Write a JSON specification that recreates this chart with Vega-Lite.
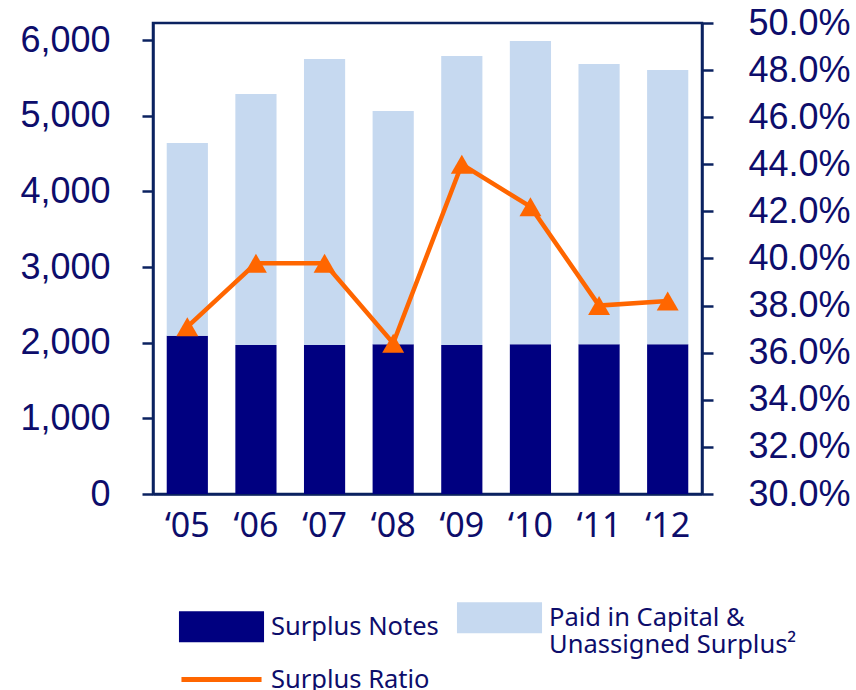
{
  "$schema": "https://vega.github.io/schema/vega-lite/v6.json",
  "width": 549,
  "height": 471,
  "autosize": {"type": "none"},
  "padding": {"left": 153, "top": 23, "right": 154, "bottom": 196},
  "background": "white",
  "config": {
    "view": {"stroke": "#0B2260", "strokeWidth": 2.5},
    "axis": {"grid": false, "domainColor": "#0B2260", "domainWidth": 2.5, "tickColor": "#0B2260", "tickWidth": 2.5, "labelColor": "#0D0D6B", "title": null}
  },
  "datasets": {
    "bars": [
      {"year": "‘05", "series": "Surplus Notes", "value": 2090},
      {"year": "‘06", "series": "Surplus Notes", "value": 1970},
      {"year": "‘07", "series": "Surplus Notes", "value": 1970},
      {"year": "‘08", "series": "Surplus Notes", "value": 1980},
      {"year": "‘09", "series": "Surplus Notes", "value": 1970},
      {"year": "‘10", "series": "Surplus Notes", "value": 1980},
      {"year": "‘11", "series": "Surplus Notes", "value": 1980},
      {"year": "‘12", "series": "Surplus Notes", "value": 1980},
      {"year": "‘05", "series": "Paid in Capital & Unassigned Surplus²", "value": 2549},
      {"year": "‘06", "series": "Paid in Capital & Unassigned Surplus²", "value": 3316},
      {"year": "‘07", "series": "Paid in Capital & Unassigned Surplus²", "value": 3779},
      {"year": "‘08", "series": "Paid in Capital & Unassigned Surplus²", "value": 3081},
      {"year": "‘09", "series": "Paid in Capital & Unassigned Surplus²", "value": 3818},
      {"year": "‘10", "series": "Paid in Capital & Unassigned Surplus²", "value": 4007},
      {"year": "‘11", "series": "Paid in Capital & Unassigned Surplus²", "value": 3703},
      {"year": "‘12", "series": "Paid in Capital & Unassigned Surplus²", "value": 3623}
    ],
    "ratio": [
      {"year": "‘05", "ratio": 0.371},
      {"year": "‘06", "ratio": 0.398},
      {"year": "‘07", "ratio": 0.398},
      {"year": "‘08", "ratio": 0.364},
      {"year": "‘09", "ratio": 0.440},
      {"year": "‘10", "ratio": 0.422},
      {"year": "‘11", "ratio": 0.380},
      {"year": "‘12", "ratio": 0.382}
    ]
  },
  "encoding": {
    "x": {
      "field": "year", "type": "ordinal", "sort": null,
      "scale": {"paddingInner": 0.4, "paddingOuter": 0.2},
      "axis": {"labelAngle": 0, "ticks": false, "labelFont": "Noto Sans", "labelFontSize": 34, "labelPadding": 15, "domain": true}
    }
  },
  "layer": [
    {
      "data": {"name": "bars"},
      "mark": {"type": "bar"},
      "encoding": {
        "y": {
          "field": "value", "type": "quantitative", "stack": "zero",
          "scale": {"domain": [0, 6225], "nice": false, "zero": true},
          "axis": {"orient": "left", "values": [0, 1000, 2000, 3000, 4000, 5000, 6000], "format": ",d", "labelFont": "Liberation Sans", "labelFontSize": 36, "labelPadding": 32, "tickSize": 11}
        },
        "order": {"field": "series", "sort": "descending"},
        "color": {
          "field": "series", "type": "nominal",
          "scale": {"domain": ["Surplus Notes", "Paid in Capital & Unassigned Surplus²", "Surplus Ratio"], "range": ["#000080", "#C6D9F0", "#FF6600"]},
          "legend": {
            "orient": "none", "legendX": 53, "legendY": 579, "columns": 2, "direction": "horizontal",
            "title": null, "padding": 0, "gridAlign": "each", "columnPadding": 10, "rowPadding": 5,
            "symbolSize": 676, "symbolType": "M-3.08,-1H3.08V1H-3.08Z", "symbolStrokeWidth": 0,
            "labelFont": "Noto Sans", "labelFontSize": 25.5, "labelColor": "#0D0D6B", "labelOffset": 34, "labelLimit": 400, "labelLineHeight": 29,
            "labelExpr": "datum.label == 'Paid in Capital & Unassigned Surplus²' ? ['Paid in Capital &', 'Unassigned Surplus²'] : datum.label",
            "encode": {
              "symbols": {
                "enter": {
                  "fill": {"signal": "datum.value == 'Surplus Notes' ? '#000080' : datum.value == 'Surplus Ratio' ? 'transparent' : '#9DC3E6'"}
                },
                "update": {
                  "shape": {"signal": "datum.value == 'Surplus Ratio' ? 'M-3.08,0H3.08' : 'M-3.08,-1H3.08V1H-3.08Z'"},
                  "fill": {"signal": "datum.value == 'Surplus Notes' ? '#000080' : datum.value == 'Surplus Ratio' ? 'transparent' : '#9DC3E6'"},
                  "stroke": {"signal": "datum.value == 'Surplus Ratio' ? '#F5820A' : 'transparent'"},
                  "strokeWidth": {"value": 5},
                  "opacity": {"value": 1},
                  "fillOpacity": {"value": 1},
                  "strokeOpacity": {"value": 1}
                }
              }
            }
          }
        }
      }
    },
    {
      "data": {"name": "ratio"},
      "layer": [
        {
          "mark": {"type": "line", "strokeWidth": 4.5},
          "encoding": {
            "y": {
              "field": "ratio", "type": "quantitative",
              "scale": {"domain": [0.3, 0.5], "nice": false, "zero": false},
              "axis": {"orient": "right", "values": [0.30, 0.32, 0.34, 0.36, 0.38, 0.40, 0.42, 0.44, 0.46, 0.48, 0.50], "format": ".1%", "labelFont": "Liberation Sans", "labelFontSize": 36, "labelPadding": 35, "tickSize": 11}
            },
            "color": {"datum": "Surplus Ratio"}
          }
        },
        {
          "mark": {"type": "point", "shape": "triangle-up", "filled": true, "size": 480, "opacity": 1},
          "encoding": {
            "y": {"field": "ratio", "type": "quantitative"},
            "color": {"datum": "Surplus Ratio"}
          }
        }
      ]
    }
  ],
  "resolve": {"scale": {"y": "independent"}}
}
